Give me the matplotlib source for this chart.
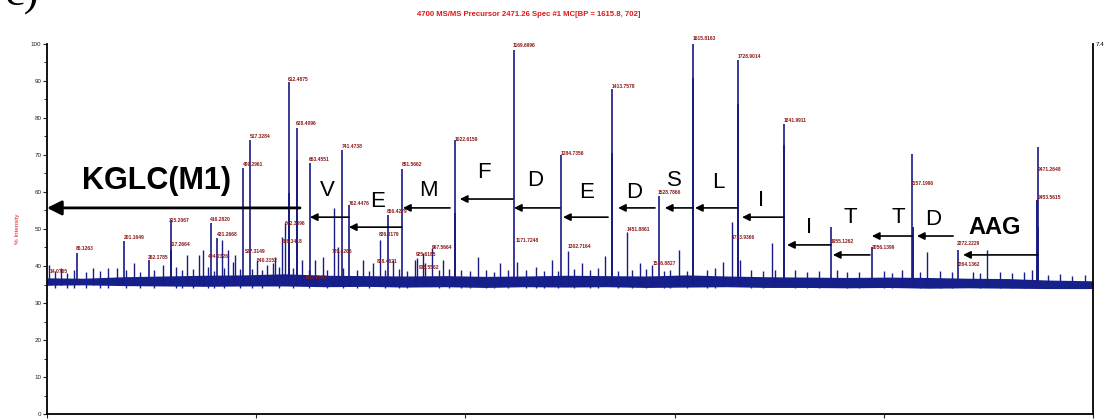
import numpy as np
import matplotlib
matplotlib.use('Agg')
import matplotlib.pyplot as plt

plt.rcParams['font.family'] = ['Liberation Sans', 'DejaVu Sans']

# main fragment peaks: m/z and % intensity
peak_mz = [83.6, 200.5, 262.7, 317.5, 417.0, 432.0, 496.6, 514.0, 611.0, 631.0,
           663.0, 743.0, 760.0, 857.0, 892.0, 1024.0, 1170.7, 1287.6, 1414.5,
           1531.4, 1616.0, 1728.0, 1842.0, 1959.0, 2061.0, 2161.0, 2275.0, 2474.0]
peak_int = [43.5, 46.8, 41.6, 52.4, 51.6, 47.6, 66.5, 74.1, 89.7, 77.3,
            67.8, 71.4, 56.5, 53.8, 66.2, 74.1, 98.4, 70.0, 87.8,
            58.9, 100.0, 95.7, 78.4, 50.5, 45.1, 70.3, 44.3, 72.2]

# isotope / shoulder peaks next to the main ones
iso_mz = [318.5, 612.0, 632.0, 1025.0, 1415.5, 1617.0, 1729.0, 1843.0, 2162.0, 2472.5, 2473.0]
iso_int = [44.3, 59.7, 68.6, 54.3, 70.5, 90.8, 83.8, 72.7, 50.5, 57.8, 50.5]

# smaller peaks sticking out of the noise
minor_mz = [14, 43.8, 123.4, 183, 225.4, 297.6, 357, 387, 397, 444, 459, 471.7, 477,
            531, 556, 571, 576, 594, 601, 643, 676, 696, 723, 733, 795, 820, 837,
            870, 924.5, 929, 944, 949, 967, 994, 1081, 1136, 1178, 1265, 1305, 1340,
            1397, 1452, 1484, 1514, 1581, 1691, 1713, 1733, 1812.5, 1820, 1974,
            2136, 2198, 2313, 2347, 2459]
minor_int = [40.3, 39.5, 39.5, 39.5, 40.8, 40.3, 43.0, 43.0, 44.3, 47.0, 44.3, 41.1, 43.0,
             41.6, 40.3, 40.8, 42.4, 47.8, 51.6, 41.6, 41.6, 42.4, 55.7, 45.1, 41.6, 40.8, 47.0,
             41.6, 41.6, 42.2, 43.5, 40.8, 44.9, 41.6, 42.4, 40.8, 41.1, 41.6, 44.1, 40.8,
             42.7, 49.2, 40.8, 40.3, 44.3, 41.1, 51.9, 41.6, 46.2, 38.9, 38.9,
             38.9, 43.8, 38.4, 44.3, 38.9]

# small spikes along the noise band
spike_mz = [30, 58, 75, 105, 140, 160, 205, 240, 275, 330, 345, 372, 410, 425, 450, 490,
            520, 545, 585, 620, 660, 705, 745, 780, 810, 850, 885, 905, 985, 1010, 1040,
            1060, 1100, 1120, 1155, 1200, 1225, 1245, 1280, 1320, 1360, 1380, 1430, 1465,
            1500, 1545, 1560, 1600, 1650, 1670, 1760, 1790, 1870, 1900, 1930, 2000, 2030,
            2090, 2110, 2180, 2230, 2260, 2330, 2380, 2410, 2440, 2500, 2530, 2560, 2590]
spike_int = [38.6, 38.0, 38.9, 38.3, 38.7, 39.4, 38.8, 38.5, 39.0, 39.6, 38.9, 39.2, 39.8, 38.7,
             39.5, 39.1, 39.3, 38.9, 39.7, 39.4, 38.8, 39.0, 39.5, 39.0, 38.6, 38.9, 39.2, 38.7,
             38.8, 39.3, 38.9, 38.6, 38.9, 38.5, 39.0, 38.8, 39.6, 38.6, 38.7, 39.1, 38.8, 39.4,
             38.6, 38.9, 39.2, 38.7, 39.0, 38.6, 38.8, 39.5, 38.9, 38.6, 38.8, 38.4, 38.6, 38.3,
             38.5, 38.6, 38.2, 38.4, 38.7, 38.3, 38.2, 38.5, 38.1, 38.4, 37.6, 37.8, 37.4, 37.5]

# noise band envelope
noise_mz = [9, 100, 200, 300, 400, 500, 600, 700, 800, 900, 1000, 1100, 1200, 1300,
            1400, 1500, 1600, 1700, 1800, 1900, 2000, 2100, 2200, 2300, 2400, 2500, 2611]
noise_lo = [34.8, 34.9, 34.7, 34.6, 34.5, 34.6, 34.6, 34.4, 34.5, 34.3, 34.4, 34.2, 34.4, 34.3,
            34.4, 34.2, 34.3, 34.4, 34.2, 34.2, 34.1, 34.2, 34.0, 34.1, 34.0, 33.9, 33.9]
noise_hi = [36.8, 36.7, 37.1, 37.3, 37.5, 37.6, 37.9, 37.5, 37.4, 37.3, 37.4, 37.2, 37.3, 37.5,
            37.4, 37.3, 37.6, 37.3, 37.1, 37.0, 36.9, 37.0, 36.9, 36.7, 36.6, 36.2, 36.0]

# peak labels: text, m/z, intensity where the label sits
lab_txt = ['14.0765', '86.1263', '201.1649', '262.1785', '315.2067', '317.2664', '404.2326',
           '416.2820', '431.2668', '499.2961', '517.3284', '527.3149', '540.3152', '586.3418',
           '612.4875', '628.4096', '642.3696', '655.4146', '663.4551', '729.4266', '741.4738',
           '762.4476', '836.3179', '838.4621', '856.4279', '891.5662', '925.6185', '935.5562',
           '967.5664', '1022.6159', '1169.6996', '1171.7248', '1284.7356', '1302.7164',
           '1413.7578', '1451.8861', '1516.8827', '1528.7866', '1615.8163', '1713.9366',
           '1728.9014', '1841.9911', '1955.1262', '2056.1399', '2157.1996', '2264.1362',
           '2272.2229', '2453.5615', '2471.2648']
lab_mz = [16.5, 81.1, 200.5, 260.3, 312.5, 315, 409.5, 414.5, 432, 496.6, 514, 501.5, 531.4,
          593.6, 608.5, 628.4, 601, 653.3, 660.8, 718, 742.8, 760.3, 835, 830, 854.8, 892,
          927, 934.4, 966.7, 1024, 1168, 1175.7, 1287.6, 1305, 1414.5, 1451.8, 1516.5, 1529,
          1616, 1713, 1728, 1842, 1959, 2061, 2158, 2273, 2273, 2474, 2474]
lab_int = [38.4, 44.6, 47.6, 42.4, 52.2, 45.9, 42.7, 52.7, 48.6, 67.3, 74.9, 43.8, 41.4,
           46.5, 90.5, 78.6, 51.6, 36.8, 68.9, 43.8, 72.2, 57.0, 48.4, 41.1, 54.6, 67.3,
           43.2, 39.7, 45.1, 74.1, 99.7, 47.0, 70.5, 45.4, 88.6, 50.0, 40.8, 60.0,
           101.4, 47.8, 96.5, 79.2, 46.5, 45.1, 62.2, 40.3, 46.2, 58.4, 66.2]

# sequence ladder: residue, tail m/z, head m/z, arrow level, letter position
res_txt = ['V', 'E', 'M', 'F', 'D', 'E', 'D', 'S', 'L', 'I', 'I', 'T', 'T', 'D']
res_tail = [760, 892, 1011.5, 1168, 1285, 1404.6, 1521.5, 1616, 1728, 1842, 1959, 2056, 2161, 2263]
res_head = [663, 760, 894.6, 1036, 1170.7, 1292.6, 1429.5, 1546, 1621, 1738, 1850, 1964, 2061, 2173]
res_lvl = [53.2, 50.5, 55.7, 58.1, 55.7, 53.2, 55.7, 55.7, 55.7, 53.2, 45.7, 43.0, 48.1, 48.1]
res_x = [705.5, 832, 957, 1096, 1223, 1352, 1469, 1569, 1678, 1785, 1904.6, 2007, 2126, 2213]
res_y = [60.5, 57.3, 60.3, 65.4, 63.2, 60.0, 60.0, 63.2, 62.7, 57.8, 50.5, 53.0, 53.0, 52.7]

x_ticks = [9.0, 529.4, 1049.8, 1570.2, 2090.6, 2611.0]

blue = '#1a1a86'
red_lab = '#8b1a1a'

fig = plt.figure(figsize=(11.04, 4.19), dpi=100)
ax = fig.add_axes([47 / 1104, 5 / 419, 1046 / 1104, 370 / 419])

ax.fill_between(noise_mz, noise_lo, noise_hi, color='#16208a', lw=0)
base = 34.8
ax.vlines(spike_mz, 34.0, spike_int, color='#16208a', lw=1.0)
ax.vlines(minor_mz, base, minor_int, color=blue, lw=1.0)
ax.vlines(iso_mz, base, iso_int, color=blue, lw=1.4)
ax.vlines(peak_mz, base, peak_int, color=blue, lw=1.2)

for t, m, v in zip(lab_txt, lab_mz, lab_int):
    ax.text(m, v, t, fontsize=3.6, color=red_lab, ha='left', va='center',
            fontweight='bold', clip_on=False)

for r, tl, hd, lv, tx, ty in zip(res_txt, res_tail, res_head, res_lvl, res_x, res_y):
    ax.annotate('', xy=(hd, lv), xytext=(tl, lv),
                arrowprops=dict(arrowstyle='-|>', color='black', lw=1.2,
                                mutation_scale=11, shrinkA=0, shrinkB=0))
    ax.text(tx, ty, r, fontsize=16, ha='center', va='center', color='black')

# KGLC(M1) and AAG ends of the ladder
ax.annotate('', xy=(9, 55.7), xytext=(638.4, 55.7),
            arrowprops=dict(arrowstyle='-|>', color='black', lw=2.0,
                            mutation_scale=22, shrinkA=0, shrinkB=0))
ax.text(282.6, 63.0, 'KGLC(M1)', fontsize=22, fontweight='bold', ha='center', va='center')
ax.annotate('', xy=(2288, 43.0), xytext=(2474, 43.0),
            arrowprops=dict(arrowstyle='-|>', color='black', lw=1.2,
                            mutation_scale=11, shrinkA=0, shrinkB=0))
ax.text(2367, 50.5, 'AAG', fontsize=17, fontweight='bold', ha='center', va='center')

ax.set_xlim(9, 2611)
ax.set_ylim(0, 100)
ax.set_xticks(x_ticks)
ax.set_xticklabels([f'{v:.1f}' for v in x_ticks])
ax.set_yticks(np.arange(0, 101, 10))
ax.set_yticks(np.arange(5, 100, 10), minor=True)
ax.tick_params(axis='both', which='major', labelsize=4.5, length=3, width=0.8,
               pad=1, colors='#222222')
ax.tick_params(axis='y', which='minor', length=2, width=0.6)
ax.spines['top'].set_visible(False)
for s in ['left', 'bottom', 'right']:
    ax.spines[s].set_linewidth(1.3)
ax.set_ylabel('% Intensity', fontsize=4.5, color='#e02020')
ax.yaxis.set_label_coords(-0.026, 0.5)
ax.text(1.003, 1.0, '7.4E+4', transform=ax.transAxes, fontsize=4.5,
        ha='left', va='center', clip_on=False)

fig.text(529 / 1104, 1 - 15 / 419,
         '4700 MS/MS Precursor 2471.26 Spec #1 MC[BP = 1615.8, 702]',
         fontsize=5.6, fontweight='bold', color='#e01818', ha='center', va='center')
fig.text(0.004, 1 - 6 / 419, 'c)', fontsize=32, family='Liberation Serif',
         ha='left', va='baseline')

fig.savefig('out.png', dpi=100)
